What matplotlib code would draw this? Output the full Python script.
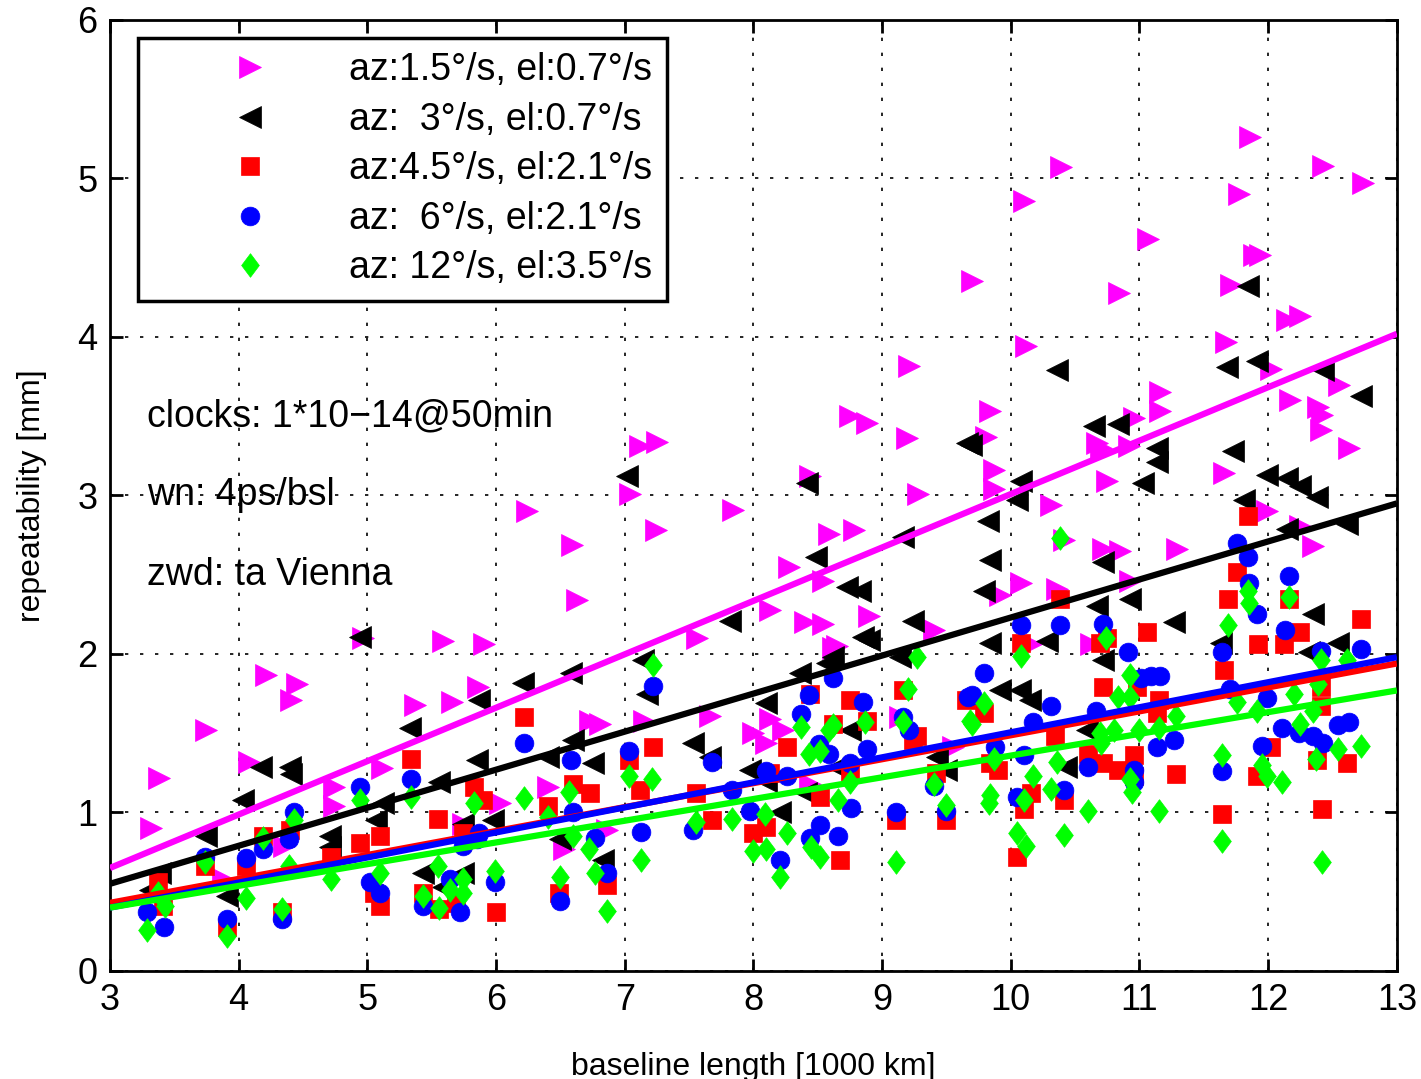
import numpy as np
import matplotlib
matplotlib.use("Agg")
import matplotlib.pyplot as plt

plt.rcParams['font.family'] = ['Liberation Sans', 'DejaVu Sans']

# series 1: az 1.5, el 0.7 (magenta, right triangles)
mag_x = [4.21, 4.45, 4.41, 3.75, 3.38, 4.08, 3.32, 4.74, 5.37, 5.66, 5.86, 5.11, 4.74, 6.03, 4.35, 3.88, 5.74,
         6.24, 4.97, 5.59, 5.91,
         9.21, 7.12, 7.25, 8.75, 8.88, 9.19, 8.44, 7.04, 9.28, 7.84, 6.59, 7.24, 8.59, 8.78, 6.63, 8.28, 8.54,
         8.13, 8.90, 8.40, 8.54, 7.56, 8.65, 9.40,
         6.73, 6.81, 6.40, 7.66, 7.15, 8.00, 8.10, 8.23, 8.13, 6.53, 6.86, 8.62, 9.14, 8.44, 9.55,
         11.86, 10.39, 12.43, 12.74, 10.10, 11.77, 11.07, 11.89, 11.94, 10.84, 11.71, 12.15, 12.25, 10.12,
         11.67, 12.02, 9.84, 9.81, 12.17, 12.55, 12.39, 12.42, 12.41, 12.63, 10.67, 10.70, 10.96, 11.16,
         11.16, 10.92, 9.87, 9.87, 10.75, 11.66, 10.31, 11.99, 10.41, 10.72, 10.85, 11.29, 12.25, 12.35,
         10.08, 9.92, 10.36, 10.93, 9.70, 10.62, 10.16]
mag_y = [1.87, 1.81, 1.71, 1.52, 1.22, 1.32, 0.90, 1.16, 1.68, 1.70, 1.79, 1.28, 1.04, 1.06, 0.79, 0.58, 0.93,
         2.90, 2.10, 2.08, 2.06,
         3.82, 3.31, 3.34, 3.50, 3.46, 3.36, 3.12, 3.01, 3.01, 2.91, 2.69, 2.78, 2.76, 2.78, 2.34, 2.55, 2.46,
         2.28, 2.24, 2.20, 2.19, 2.10, 2.05, 2.15,
         1.58, 1.56, 1.16, 1.61, 1.58, 1.50, 1.44, 1.52, 1.59, 0.77, 0.89, 2.04, 1.60, 1.18, 1.41,
         5.26, 5.07, 5.08, 4.97, 4.86, 4.90, 4.62, 4.52, 4.52, 4.28, 4.33, 4.11, 4.13, 3.94,
         3.97, 3.80, 3.53, 3.37, 3.60, 3.70, 3.56, 3.51, 3.41, 3.30, 3.33, 3.30, 3.49, 3.65,
         3.53, 3.31, 3.16, 3.04, 3.09, 3.14, 2.94, 2.90, 2.72, 2.66, 2.65, 2.66, 2.81, 2.68,
         2.45, 2.37, 2.41, 2.46, 4.35, 2.06, 2.06]

# series 2: az 3, el 0.7 (black, left triangles)
blk_x = [3.31, 3.39, 4.03, 4.17, 4.40, 4.41, 3.75, 3.91, 4.71, 4.71, 5.33, 5.07, 5.12, 5.56, 5.85, 5.87, 6.21,
         5.98, 5.74, 5.43, 5.74, 5.59, 4.94,
         7.02, 8.42, 8.49, 8.73, 8.83, 9.16, 9.24, 8.85, 7.82, 9.66,
         6.40, 6.60, 6.75, 7.14, 7.17, 7.53, 7.66, 8.10, 8.36, 8.57, 8.62, 7.97, 8.10, 8.21, 8.41, 8.75, 8.65,
         6.50, 6.83, 9.43, 9.50, 9.14, 8.90, 6.58,
         10.36, 11.84, 10.65, 10.83, 11.68, 11.91, 12.43, 12.72, 9.69, 10.08, 10.05, 11.14, 11.14, 11.03,
         11.73, 11.99, 12.15, 12.25, 12.38, 11.81, 9.82, 9.84, 10.72, 9.79, 10.67, 10.93, 11.27, 12.15,
         12.61, 12.35, 9.84, 10.28, 11.63, 12.54,
         9.92, 10.07, 10.15, 10.72, 10.43, 12.32, 10.59]
blk_y = [0.51, 0.62, 1.08, 1.29, 1.29, 1.24, 0.85, 0.47, 0.85, 0.78, 1.53, 0.95, 1.06, 1.19, 1.33, 1.71, 1.82,
         0.95, 0.93, 0.62, 0.62, 0.53, 2.11,
         3.12, 3.08, 2.61, 2.42, 2.40, 2.74, 2.21, 2.11, 2.21, 3.33,
         1.35, 1.46, 1.31, 1.96, 1.75, 1.44, 1.35, 1.69, 1.88, 1.94, 1.98, 1.27, 1.20, 1.00, 1.12, 1.52, 1.29,
         0.83, 0.70, 1.35, 1.27, 1.98, 2.09, 1.88,
         3.79, 4.32, 3.44, 3.45, 3.81, 3.85, 3.79, 3.63, 3.32, 3.09, 2.97, 3.30, 3.21, 3.08,
         3.28, 3.13, 3.11, 3.06, 2.99, 2.97, 2.84, 2.59, 2.58, 2.40, 2.30, 2.35, 2.20, 2.79,
         2.82, 2.25, 2.07, 2.08, 2.07, 2.07,
         1.77, 1.77, 1.71, 1.96, 1.29, 2.01, 1.52]

# series 3: az 4.5, el 2.1 (red, squares)
red_x = [3.37, 3.41, 3.74, 3.91, 4.06, 4.19, 4.34, 4.40, 4.72, 4.94, 5.10, 5.05, 5.10, 5.34, 5.55, 5.43, 5.56,
         5.74, 5.69, 5.83, 5.90, 6.00, 6.22,
         6.40, 6.60, 6.73, 6.86, 6.49, 7.03, 7.22, 7.12, 7.55, 7.68, 8.00, 8.10, 8.26, 8.13, 8.44, 8.62, 8.52,
         8.67, 8.75, 8.88, 8.75, 9.16, 9.24, 9.11, 9.50, 9.42, 9.65, 9.27,
         11.84, 10.38, 11.76, 11.69, 10.08, 10.75, 11.06, 12.16, 12.25, 12.72, 11.92, 12.12, 10.69,
         11.66, 10.72, 10.98, 11.15, 11.14, 9.79, 10.34, 12.41, 12.41, 12.02, 10.96, 10.60, 10.72, 9.84,
         9.90, 10.83, 10.96, 11.28, 11.91, 12.38, 12.61, 10.16, 10.10, 10.41, 11.64, 12.42, 10.05]
red_y = [0.56, 0.41, 0.66, 0.28, 0.66, 0.85, 0.37, 0.89, 0.72, 0.81, 0.85, 0.49, 0.41, 1.34, 0.96, 0.49, 0.39,
         0.87, 0.43, 1.16, 1.08, 0.37, 1.60,
         1.04, 1.18, 1.12, 0.54, 0.49, 1.33, 1.41, 1.14, 1.12, 0.95, 0.87, 0.91, 1.41, 1.25, 1.75, 1.56, 1.10,
         0.70, 1.71, 1.58, 1.25, 1.77, 1.46, 0.95, 0.95, 1.25, 1.71, 1.48,
         2.87, 2.35, 2.52, 2.35, 2.07, 2.10, 2.14, 2.35, 2.14, 2.22, 2.06, 2.06, 2.07,
         1.90, 1.79, 1.79, 1.71, 1.63, 1.63, 1.48, 1.79, 1.67, 1.41, 1.36, 1.37, 1.31, 1.31,
         1.27, 1.27, 1.23, 1.24, 1.23, 1.33, 1.31, 1.12, 1.02, 1.08, 0.99, 1.02, 0.72]

# series 4: az 6, el 2.1 (blue, circles)
blu_x = [3.42, 3.29, 3.74, 3.91, 4.06, 4.19, 4.34, 4.43, 4.39, 4.94, 5.02, 5.10, 5.34, 5.43, 5.64, 5.72, 5.74,
         5.85, 5.87, 5.99, 6.22,
         6.58, 6.50, 6.77, 6.86, 6.60, 7.03, 7.22, 7.13, 7.53, 7.68, 7.83, 7.97, 8.10, 8.26, 8.21, 8.37, 8.43,
         8.52, 8.44, 8.51, 8.59, 8.62, 8.66, 8.75, 8.85, 8.76, 8.88, 9.11, 9.16, 9.21, 9.40, 9.50, 9.67,
         9.79, 9.70, 9.88, 10.10, 10.17, 10.31, 10.05, 10.41, 10.60, 10.66, 10.91, 10.96, 10.96, 11.01,
         11.09, 11.16, 11.14, 11.27, 11.64, 11.64, 11.70, 11.99, 11.95, 12.11, 12.24, 12.35, 12.43, 12.41,
         12.54, 12.63, 12.72,
         11.76, 11.84, 11.85, 11.91, 12.16, 12.13, 10.08, 10.38, 10.72]
blu_y = [0.28, 0.37, 0.72, 0.33, 0.71, 0.77, 0.33, 1.00, 0.83, 1.16, 0.56, 0.49, 1.21, 0.41, 0.58, 0.37, 0.79,
         0.83, 0.87, 0.56, 1.44,
         1.33, 0.44, 0.84, 0.62, 1.00, 1.39, 1.80, 0.88, 0.89, 1.32, 1.14, 1.01, 1.26, 1.23, 0.70, 1.62, 1.74,
         0.92, 0.84, 1.43, 1.37, 1.85, 0.85, 1.31, 1.70, 1.03, 1.40, 1.00, 1.60, 1.52, 1.17, 1.01, 1.73,
         1.88, 1.74, 1.41, 1.36, 1.57, 1.67, 1.10, 1.14, 1.29, 1.64, 2.01, 1.27, 1.19, 1.85,
         1.86, 1.86, 1.41, 1.46, 2.01, 1.26, 1.78, 1.72, 1.42, 1.53, 1.50, 1.48, 1.44, 2.02,
         1.55, 1.57, 2.03,
         2.70, 2.61, 2.45, 2.25, 2.49, 2.15, 2.18, 2.18, 2.19]

# series 5: az 12, el 3.5 (green, diamonds)
grn_x = [3.29, 3.37, 3.43, 3.74, 3.91, 4.06, 4.19, 4.34, 4.43, 4.39, 4.72, 4.94, 5.10, 5.34, 5.55, 5.43, 5.56,
         5.64, 5.74, 5.83, 5.99, 6.22, 5.74,
         6.40, 6.57, 6.60, 6.72, 6.77, 6.50, 6.86, 7.03, 7.21, 7.22, 7.13, 7.55, 7.83, 8.00, 8.10, 8.09, 8.21,
         8.26, 8.37, 8.43, 8.52, 8.45, 8.52, 8.59, 8.62, 8.66, 8.75, 8.87, 9.11, 9.20, 9.27, 9.16, 9.40,
         9.50, 9.68,
         10.08, 9.79, 9.70, 9.87, 10.17, 10.10, 9.84, 9.83, 10.31, 10.36, 10.60, 10.05, 10.12, 10.41,
         10.69, 10.70, 10.83, 10.80, 10.93, 10.93, 10.93, 10.94, 11.00, 11.15, 11.15, 11.28, 11.64, 11.64,
         11.76, 11.91, 11.95, 11.99, 12.11, 12.20, 12.25, 12.35, 12.39, 12.41, 12.37, 12.42, 12.54, 12.72,
         12.61,
         10.38, 11.84, 11.85, 12.16, 11.69, 10.74]
grn_y = [0.26, 0.49, 0.41, 0.69, 0.22, 0.46, 0.84, 0.39, 0.95, 0.66, 0.58, 1.08, 0.62, 1.10, 0.66, 0.47, 0.40,
         0.51, 0.58, 1.06, 0.63, 1.09, 0.49,
         0.97, 1.13, 0.85, 0.77, 0.62, 0.59, 0.38, 1.23, 1.21, 1.93, 0.70, 0.94, 0.96, 0.76, 0.77, 0.99, 0.59,
         0.87, 1.54, 1.37, 1.39, 0.78, 0.72, 1.52, 1.55, 1.08, 1.19, 1.57, 0.69, 1.78, 1.98, 1.57, 1.18,
         1.05, 1.58,
         1.99, 1.69, 1.56, 1.34, 1.23, 1.08, 1.11, 1.06, 1.15, 1.32, 1.01, 0.87, 0.79, 0.86,
         1.50, 1.44, 1.73, 1.52, 1.87, 1.73, 1.21, 1.13, 1.52, 1.53, 1.01, 1.61, 1.36, 0.82,
         1.70, 1.64, 1.30, 1.23, 1.19, 1.75, 1.56, 1.64, 1.81, 1.96, 1.34, 0.69, 1.40, 1.42,
         1.96,
         2.73, 2.40, 2.32, 2.36, 2.18, 2.10]

# linear fits (value at x=3 and at x=13)
fit_y3 = [0.65, 0.55, 0.43, 0.40, 0.40]
fit_y13 = [4.02, 2.95, 1.94, 1.98, 1.77]

labels = ['az:1.5°/s, el:0.7°/s', 'az:  3°/s, el:0.7°/s', 'az:4.5°/s, el:2.1°/s',
          'az:  6°/s, el:2.1°/s', 'az: 12°/s, el:3.5°/s']
colors = ['#ff00ff', '#000000', '#ff0000', '#0000ff', '#00ff00']

diamond = [(-0.75, 0), (0, 1), (0.75, 0), (0, -1), (-0.75, 0)]
markers = ['>', '<', 's', 'o', diamond]
msizes = [16, 16, 12.5, 13.5, 17]

fig = plt.figure(figsize=(14.21, 10.79), dpi=100)
ax = fig.add_axes([0.0774, 0.1001, 0.9056, 0.8814])

series = [(mag_x, mag_y), (blk_x, blk_y), (red_x, red_y), (blu_x, blu_y), (grn_x, grn_y)]
handles = []
for (sx, sy), c, m, ms, lab in zip(series, colors, markers, msizes, labels):
    h, = ax.plot(sx, sy, ls='none', marker=m, ms=ms, color=c, mec=c, mew=0.5, label=lab, zorder=3)
    handles.append(h)

xl = np.array([3, 13])
for c, a, b in zip(colors, fit_y3, fit_y13):
    ax.plot(xl, [a, b], color=c, lw=4.5, solid_capstyle='butt', zorder=4)

ax.set_xlim(3, 13)
ax.set_ylim(0, 6)
ax.set_xticks(range(3, 14))
ax.set_yticks(range(0, 7))
ax.grid(True, color='black', linestyle=(0, (2, 7)), linewidth=1.2)
ax.tick_params(direction='in', length=9, width=2, top=True, right=True, labelsize=26, pad=9)
for s in ax.spines.values():
    s.set_linewidth(2)

ax.set_xlabel('baseline length [1000 km]', fontsize=23, labelpad=24)
ax.set_ylabel('repeatability [mm]', fontsize=23, labelpad=22)

ax.text(3.29, 3.5, 'clocks: 1*10\u221214@50min', fontsize=27, va='center', ha='left')
ax.text(3.29, 3.0, 'wn: 4ps/bsl', fontsize=27, va='center', ha='left')
ax.text(3.29, 2.5, 'zwd: ta Vienna', fontsize=27, va='center', ha='left')

leg = ax.legend(handles=handles, loc='upper left', bbox_to_anchor=(0.022, 0.981), fontsize=27,
                handlelength=5.2, handletextpad=0.05, labelspacing=0.36, borderpad=0.38,
                borderaxespad=0, fancybox=False, framealpha=1, edgecolor='black')
leg.get_frame().set_linewidth(2.5)
leg.set_zorder(10)

fig.savefig('out.png', dpi=100)
